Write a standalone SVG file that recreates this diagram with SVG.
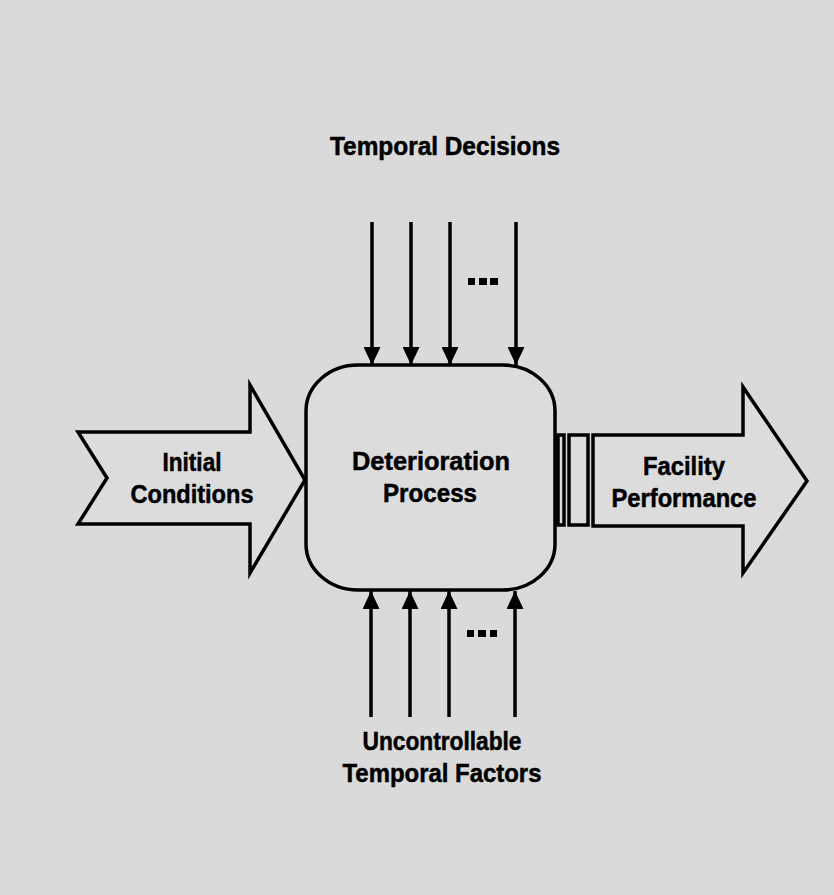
<svg xmlns="http://www.w3.org/2000/svg" width="834" height="895" viewBox="0 0 834 895">
  <style>
    .shape { fill: #dcdcdc; stroke: #000; stroke-width: 3.5; stroke-linejoin: miter; }
    .label { font-family: "Liberation Sans", Arial, sans-serif; font-weight: bold; font-size: 26px; fill: #000; stroke: #000; stroke-width: 0.5; text-anchor: middle; }
    .flow { stroke: #000; stroke-width: 3.5; fill: none; }
    .dot { fill: #000; }
  </style>
  <defs>
    <marker id="head" viewBox="0 0 18 17" refX="18" refY="8.5" markerWidth="18" markerHeight="17" markerUnits="userSpaceOnUse" orient="auto">
      <path d="M0,0 L18,8.5 L0,17 Z" fill="#000"/>
    </marker>
  </defs>

  <rect width="834" height="895" fill="#dadada"/>

  <text class="label" x="445" y="155" textLength="230" lengthAdjust="spacingAndGlyphs">Temporal Decisions</text>

  <g id="initial-conditions">
    <polygon class="shape" points="78,432 250,432 250,385 305,480 250,573 250,524 78,524 107,478"/>
    <text class="label" x="192" y="471" textLength="59" lengthAdjust="spacingAndGlyphs">Initial</text>
    <text class="label" x="192" y="503" textLength="123" lengthAdjust="spacingAndGlyphs">Conditions</text>
  </g>

  <g id="deterioration-process">
    <rect class="shape" x="306" y="365" width="249" height="225" rx="52" ry="46"/>
    <text class="label" x="431" y="470" textLength="158" lengthAdjust="spacingAndGlyphs">Deterioration</text>
    <text class="label" x="430" y="502" textLength="94" lengthAdjust="spacingAndGlyphs">Process</text>
  </g>

  <g id="facility-performance">
    <rect class="shape" x="558" y="435" width="6" height="90"/>
    <rect class="shape" x="569" y="435" width="19" height="90"/>
    <polygon class="shape" points="593,435 743,435 743,387 807,481 743,573 743,526 593,526"/>
    <text class="label" x="684" y="475" textLength="82" lengthAdjust="spacingAndGlyphs">Facility</text>
    <text class="label" x="684" y="507" textLength="145" lengthAdjust="spacingAndGlyphs">Performance</text>
  </g>

  <g id="connectors">
    <line class="flow" x1="372" y1="222" x2="372" y2="365" marker-end="url(#head)"/>
    <line class="flow" x1="411" y1="222" x2="411" y2="365" marker-end="url(#head)"/>
    <line class="flow" x1="450" y1="222" x2="450" y2="365" marker-end="url(#head)"/>
    <line class="flow" x1="516" y1="222" x2="516" y2="365" marker-end="url(#head)"/>
    <line class="flow" x1="371" y1="717" x2="371" y2="591" marker-end="url(#head)"/>
    <line class="flow" x1="410" y1="717" x2="410" y2="591" marker-end="url(#head)"/>
    <line class="flow" x1="449" y1="717" x2="449" y2="591" marker-end="url(#head)"/>
    <line class="flow" x1="515" y1="717" x2="515" y2="591" marker-end="url(#head)"/>
  </g>

  <g id="ellipsis-top">
    <rect class="dot" x="468" y="278" width="7" height="7"/>
    <rect class="dot" x="479" y="278" width="8" height="7"/>
    <rect class="dot" x="490" y="278" width="8" height="7"/>
  </g>
  <g id="ellipsis-bottom">
    <rect class="dot" x="467" y="630" width="7" height="7"/>
    <rect class="dot" x="478" y="630" width="8" height="7"/>
    <rect class="dot" x="490" y="630" width="7" height="7"/>
  </g>

  <g id="uncontrollable-factors">
    <text class="label" x="442" y="750" textLength="159" lengthAdjust="spacingAndGlyphs">Uncontrollable</text>
    <text class="label" x="442" y="782" textLength="199" lengthAdjust="spacingAndGlyphs">Temporal Factors</text>
  </g>
</svg>
